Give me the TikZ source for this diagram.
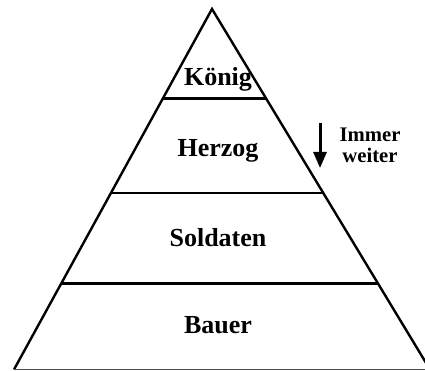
\documentclass[tikz,border=0pt]{standalone}
\usepackage{fontspec}
\setmainfont{Liberation Serif}
\usetikzlibrary{calc,arrows.meta}

\tikzset{
	stufe/.style={anchor=base,inner sep=0pt,font=\bfseries\fontsize{26}{30}\selectfont},
	kante/.style={line width=2.4pt},
}

\begin{document}
\begin{tikzpicture}[x=1pt,y=-1pt]%,cap=round,>=latex]
					\useasboundingbox (0,0) rectangle (425,371);
					\clip (0,0) rectangle (425,371);
					\coordinate (S) at (212,9);
					\coordinate (L) at (14,369.5);
					\coordinate (R) at (430,369.5);
					\draw[kante] (L) -- (S) -- (R);
					\draw[line width=1pt,black!70] (L) -- (425,369.5);
					
					% Ebenen
					\draw[kante] ($(S)!0.2486!(L)$) -- ($(S)!0.2486!(R)$);
					\draw[kante] ($(S)!0.5097!(L)$) -- ($(S)!0.5097!(R)$);
					\draw[kante] ($(S)!0.761!(L)$) -- ($(S)!0.761!(R)$);
					
					\node[stufe] (koenig) at (218,86) {König};
					\node[stufe] (herzog) at (218,157) {Herzog};
					\node[stufe] (soldaten) at (218,246) {Soldaten};
					\node[stufe] (bauer) at (218,333) {Bauer};
					
					\coordinate (P1) at (320,123);
					\coordinate (P2) at (320,168);
					\draw[line width=3pt,-{Triangle[length=16pt,width=13pt]}] (P1) -- (P2);
					\node[inner sep=0pt,align=center,font=\bfseries\fontsize{20.7}{21}\selectfont] (weiter) at (370,145.6) {Immer\\weiter};
				\end{tikzpicture}
\end{document}
